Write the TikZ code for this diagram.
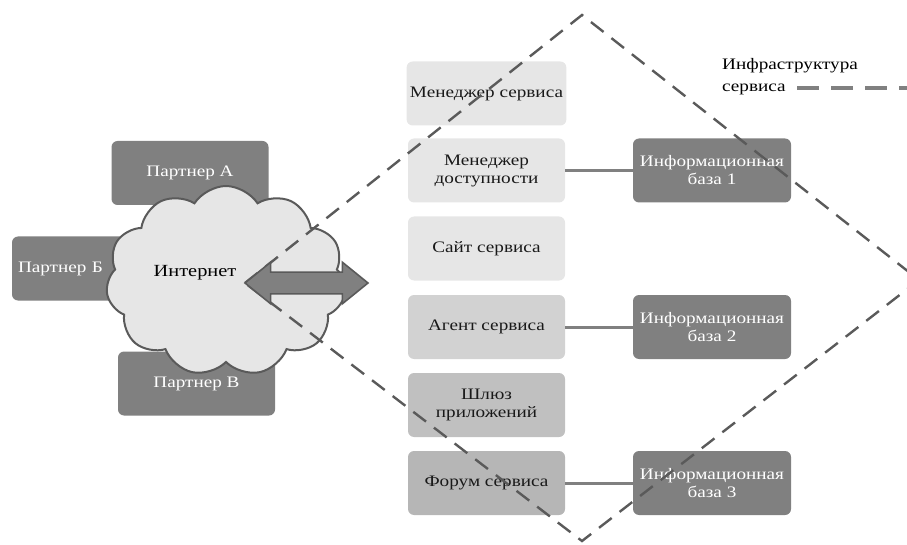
\documentclass[tikz,border=0pt]{standalone}
\usepackage{fontspec}
\setmainfont[FakeStretch=1.2]{Liberation Serif}
\usetikzlibrary{shapes.symbols,shapes.arrows}
\definecolor{darkbox}{HTML}{808080}
\definecolor{lightbox}{HTML}{E6E6E6}
\definecolor{midbox}{HTML}{D2D2D2}
\definecolor{gatebox}{HTML}{C0C0C0}
\definecolor{forumbox}{HTML}{B6B6B6}
\definecolor{edgegray}{HTML}{5A5A5A}

\begin{document}
\begin{tikzpicture}[x=1pt, y=-1pt,
    every node/.style={font=\fontsize{16}{18}\selectfont},
    partner/.style={fill=darkbox, text=white, rounded corners=6pt, minimum width=157pt, minimum height=64pt, inner sep=6pt},
    service/.style={rounded corners=6pt, minimum width=157pt, minimum height=64pt, align=center, text=black!90},
    infobase/.style={fill=darkbox, text=white, rounded corners=6pt, minimum width=158pt, minimum height=64pt, align=center},
    link/.style={draw=darkbox, line width=3pt},
    border/.style={draw=edgegray, line width=2.4pt, dash pattern=on 16pt off 10pt}]
    \clip (0,0) rectangle (907,545);
    % Partners behind the cloud
    \node[partner] (pa) at (190,173) {Партнер А};
    \node[partner, text width=145pt, align=left] (pb) at (90.5,268.5) {Партнер Б};
    \node[partner] (pc) at (196.5,383.5) {Партнер В};

    % Internet cloud
    \node[cloud, cloud puffs=11, cloud puff arc=115, aspect=1.3, draw=edgegray, line width=2pt, fill=lightbox, minimum width=240pt, minimum height=190pt] (cloud) at (226,281) {};
    \node[text=black] (inet) at (195,273) {\fontsize{17}{19}\selectfont Интернет};

    % Service components
    \node[service, fill=lightbox] (mgr) at (486.5,93.5) {Менеджер сервиса};
    \node[service, fill=lightbox] (avail) at (486.5,170.5) {Менеджер\\доступности};
    \node[service, fill=lightbox] (site) at (486.5,248.5) {Сайт сервиса};
    \node[service, fill=midbox] (agent) at (486.5,327) {Агент сервиса};
    \node[service, fill=gatebox] (gate) at (486.5,405) {Шлюз\\приложений};
    \node[service, fill=forumbox] (forum) at (486.5,483) {Форум сервиса};

    % Information bases
    \node[infobase] (ib1) at (712,170.5) {Информационная\\база 1};
    \node[infobase] (ib2) at (712,327) {Информационная\\база 2};
    \node[infobase] (ib3) at (712,483) {Информационная\\база 3};

    \draw[link] (avail) -- (ib1);
    \draw[link] (agent) -- (ib2);
    \draw[link] (forum) -- (ib3);

    % Service infrastructure boundary
    \coordinate (west) at (245,283);
    \coordinate (north) at (582,15);
    \coordinate (east) at (919,280);
    \coordinate (south) at (582,541);
    \draw[border] (west) -- (north) -- (east) -- (south) -- cycle;

    % Exchange with the Internet
    \node[double arrow, double arrow head extend=10pt, double arrow tip angle=78, inner sep=10pt, minimum height=123pt, fill=darkbox, draw=edgegray, line width=1.6pt] (xchg) at (306.5,283) {};

    % Legend
    \node[align=left, anchor=north west, inner sep=0pt, font=\fontsize{16}{22}\selectfont] (legend) at (722,58) {Инфраструктура\\сервиса};
    \coordinate (legendstart) at (797,88);
    \coordinate (legendend) at (907,88);
    \draw[draw=darkbox, line width=4pt, dash pattern=on 22pt off 12pt] (legendstart) -- (legendend);
\end{tikzpicture}
\end{document}
